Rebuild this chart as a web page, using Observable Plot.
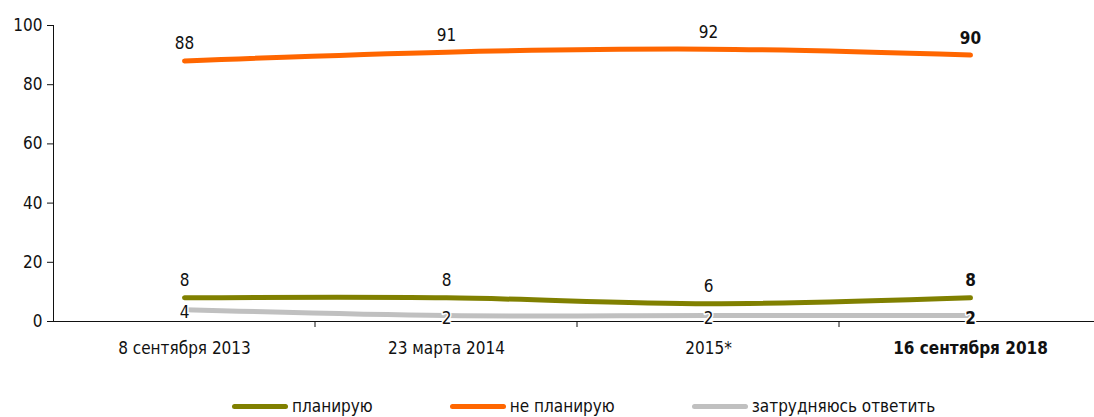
<!DOCTYPE html>
<html><head><meta charset="utf-8">
<script src="https://cdn.jsdelivr.net/npm/d3@7"></script>
<script src="https://cdn.jsdelivr.net/npm/@observablehq/plot@0.6"></script>
<style>
body{margin:0;background:#fff;font-family:"Liberation Sans Narrow","DejaVu Sans Condensed","Roboto",sans-serif;color:#111;}
#legend{display:flex;gap:77px;padding-left:232px;margin-top:26px;font-size:17px;align-items:center;}
#legend .item{display:flex;align-items:center;}
#legend .sw{width:56px;height:5px;border-radius:3px;margin-right:4px;}
</style></head><body>
<div id="chart"></div>
<div id="legend"></div>
<script>
const categories = ["8 сентября 2013", "23 марта 2014", "2015*", "16 сентября 2018"];
const seriesNames = ["планирую", "не планирую", "затрудняюсь ответить"];
const plan = [8, 8, 6, 8];
const notPlan = [88, 91, 92, 90];
const hard = [4, 2, 2, 2];
const colors = ["#808000", "#ff6600", "#c0c0c0"];
const yTicks = [0, 20, 40, 60, 80, 100];

const lastCat = categories[categories.length - 1];
const data = [];
[plan, notPlan, hard].forEach((vals, s) => vals.forEach((v, i) =>
  data.push({series: seriesNames[s], cat: categories[i], value: v, last: categories[i] === lastCat})));

const upper = data.filter(d => d.series !== seriesNames[2]);
const lower = data.filter(d => d.series === seriesNames[2]);
const font = "Liberation Sans Narrow, DejaVu Sans Condensed, Roboto, sans-serif";

const boundaryTicks = (index, scales, values, dims) => {
  const g = d3.create("svg:g");
  const y0 = dims.height - dims.marginBottom;
  categories.slice(1).forEach(c => {
    const x = scales.x(c);
    g.append("line").attr("x1", x).attr("x2", x).attr("y1", y0).attr("y2", y0 + 6)
      .attr("stroke", "#111").attr("stroke-width", 1);
  });
  return g.node();
};

const plot = Plot.plot({
  width: 1094, height: 370,
  marginLeft: 53, marginRight: -7, marginTop: 25, marginBottom: 49,
  style: {fontFamily: font, fontSize: "17px", color: "#111", overflow: "visible", background: "#fff"},
  x: {type: "band", domain: categories, padding: 0, axis: null},
  y: {domain: [0, 100], axis: null},
  color: {domain: seriesNames, range: colors},
  marks: [
    Plot.axisY({ticks: yTicks, tickSize: 6, tickPadding: 5, tickFormat: d => d, fontSize: 17, stroke: "#111", label: null}),
    Plot.frame({anchor: "left", stroke: "#111"}),
    Plot.ruleY([0], {stroke: "#111"}),
    boundaryTicks,
    Plot.text(categories.filter(c => c !== lastCat), {x: d => d, frameAnchor: "bottom", dy: 32, fontSize: 17}),
    Plot.text([lastCat], {x: d => d, frameAnchor: "bottom", dy: 32, fontSize: 17, fontWeight: "bold"}),
    Plot.line(data, {x: "cat", y: "value", z: "series", stroke: "series", strokeWidth: 5, curve: "catmull-rom", strokeLinecap: "round"}),
    Plot.text(upper.filter(d => !d.last), {x: "cat", y: "value", text: d => String(d.value), dy: -17, fontSize: 17, fill: "#111"}),
    Plot.text(upper.filter(d => d.last), {x: "cat", y: "value", text: d => String(d.value), dy: -17, fontSize: 17, fontWeight: "bold", fill: "#111"}),
    Plot.text(lower.filter(d => !d.last), {x: "cat", y: "value", text: d => String(d.value), dy: 3, fontSize: 17, fill: "#111", stroke: "#fff", strokeWidth: 3}),
    Plot.text(lower.filter(d => d.last), {x: "cat", y: "value", text: d => String(d.value), dy: 3, fontSize: 17, fontWeight: "bold", fill: "#111", stroke: "#fff", strokeWidth: 3})
  ]
});
document.getElementById("chart").appendChild(plot);

const legend = document.getElementById("legend");
seriesNames.forEach((name, i) => {
  const item = document.createElement("div");
  item.className = "item";
  const sw = document.createElement("span");
  sw.className = "sw";
  sw.style.background = colors[i];
  const lb = document.createElement("span");
  lb.textContent = name;
  item.appendChild(sw);
  item.appendChild(lb);
  legend.appendChild(item);
});
</script>
</body></html>
